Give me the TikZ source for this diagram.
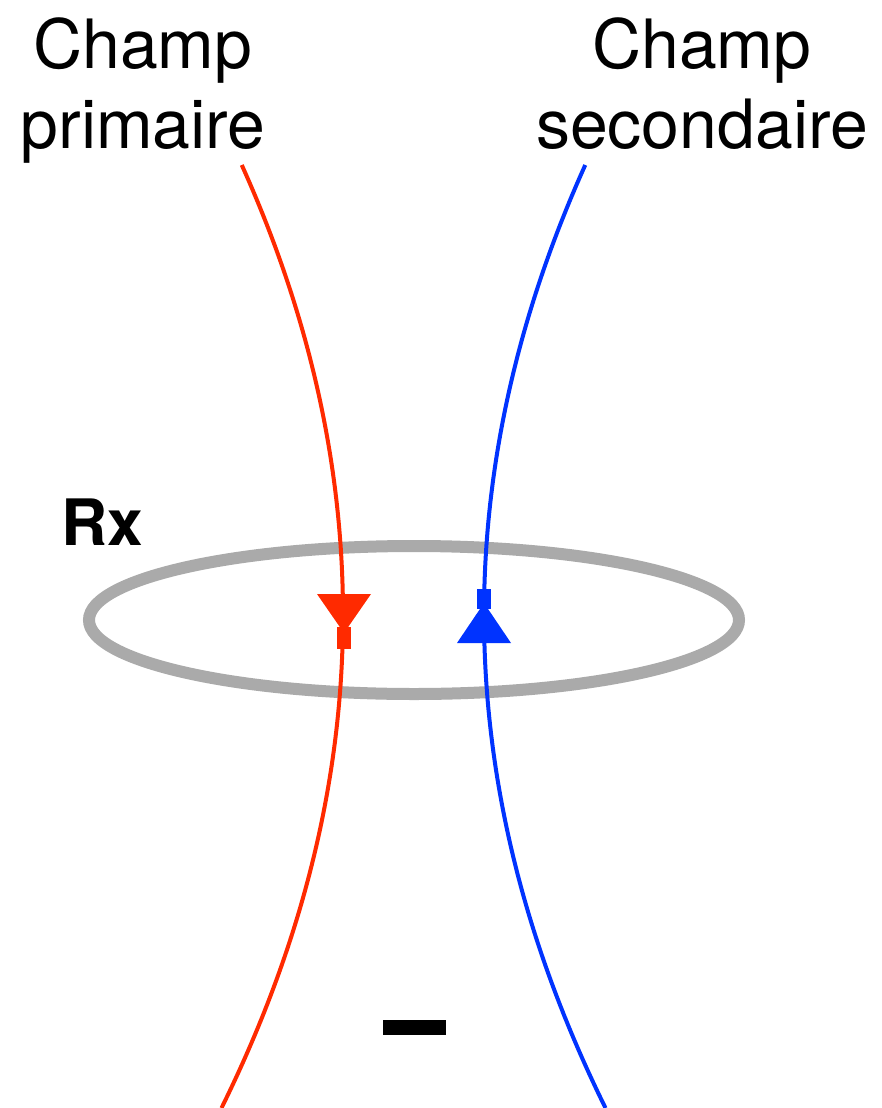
\documentclass[tikz,border=0pt]{standalone}
\usepackage{fontspec}
\setmainfont{TeX Gyre Heros}
\definecolor{fieldred}{RGB}{255,42,0}
\definecolor{fieldblue}{RGB}{0,51,255}
\definecolor{loopgray}{RGB}{170,170,170}
\begin{document}
\begin{tikzpicture}[x=1pt,y=-1pt,
  label/.style={align=center,font=\fontsize{68}{80}\selectfont,inner sep=0pt},
  redline/.style={draw=fieldred,line width=4pt},
  blueline/.style={draw=fieldblue,line width=4pt},
  loop/.style={draw=loopgray,line width=12pt}]
\useasboundingbox[fill=white] (0,0) rectangle (881,1108);
% labels
\node[label,anchor=base] (lprim) at (143,148) {Champ\\primaire};
\node[label,anchor=base] (lsec) at (702,148) {Champ\\secondaire};
\node[anchor=base west,inner sep=0pt,font=\fontsize{64}{70}\selectfont\bfseries] (rx) at (61,545) {Rx};
% receiver loop
\draw[loop] (414,620) ellipse [x radius=325, y radius=74];
% field lines
\coordinate (rtop) at (241.75,165);
\coordinate (rbot) at (221.5,1108);
\coordinate (btop) at (585.25,165);
\coordinate (bbot) at (605.5,1108);
\draw[redline] (rtop) .. controls (383.2,479.3) and (376.4,793.7) .. (rbot);
\draw[blueline] (btop) .. controls (443.8,479.3) and (450.6,793.7) .. (bbot);
% arrowheads
\fill[fieldred] (317,594) -- (371,594) -- (344,633) -- cycle;
\fill[fieldred] (336.5,627) rectangle (351,649);
\fill[fieldblue] (457,643) -- (511,643) -- (484,603) -- cycle;
\fill[fieldblue] (477,589) rectangle (491,609);
% minus sign
\fill[black] (383,1020) rectangle (446,1035);
\end{tikzpicture}
\end{document}
